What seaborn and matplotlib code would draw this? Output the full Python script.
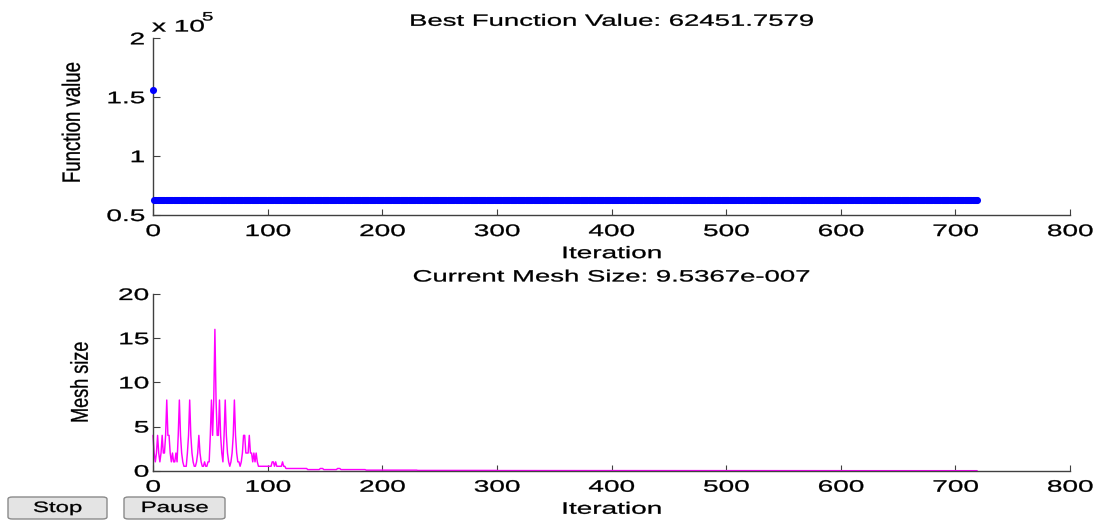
import numpy as np
import pandas as pd
import matplotlib
matplotlib.use("Agg")
import matplotlib.pyplot as plt
import seaborn as sns
from matplotlib.patheffects import AbstractPathEffect
from matplotlib.transforms import Affine2D
from matplotlib.patches import FancyBboxPatch

# ---------------- data ----------------
best_title = "Best Function Value: 62451.7579"
mesh_title = "Current Mesh Size: 9.5367e-007"
best_levels = [156100.0, 62451.7579]
best_runs = [1, 719]

mesh_head = [4, 2, 1, 2, 4, 2, 1, 2, 4, 2,
             2, 4, 8, 4, 4, 2, 1, 2, 1, 1,
             2, 1, 4, 8, 4, 2, 1, 0.5, 0.5, 0.5,
             2, 4, 8, 4, 2, 1, 0.5, 0.5, 1, 2,
             4, 2, 1, 0.5, 0.5, 1, 0.5, 0.5, 1, 1,
             4, 8, 4, 8, 16, 8, 4, 4, 8, 4,
             2, 1, 4, 8, 4, 2, 1, 0.5, 1, 2,
             4, 8, 4, 2, 1, 1, 0.5, 1, 2, 4,
             4, 2, 2, 2, 4, 2, 2, 1, 2, 1,
             2, 1, 0.5, 0.5, 0.5, 0.5, 0.5, 0.5, 0.5, 0.5,
             0.5, 0.5, 0.5, 0.5, 1, 1, 0.5, 1, 0.5, 0.5,
             0.5, 0.5, 0.5, 1, 0.5, 0.5]
mesh_tail_levels = [0.25, 0.125, 0.25, 0.125, 0.25, 0.125, 0.0625, 0.03125,
                    0.015625, 0.0078125, 0.00390625, 0.00048828, 9.5367e-07]
mesh_tail_runs = [19, 11, 3, 12, 3, 22, 45, 70, 100, 100, 100, 100, 19]

x_ticks = [0, 100, 200, 300, 400, 500, 600, 700, 800]
y1_ticks = [50000, 100000, 150000, 200000]
y1_labels = ["0.5", "1", "1.5", "2"]
y2_ticks = [0, 5, 10, 15, 20]
y2_labels = ["0", "5", "10", "15", "20"]
x_labels = [str(v) for v in x_ticks]

best_vals = np.repeat(best_levels, best_runs)
mesh_vals = np.concatenate([np.array(mesh_head, float),
                            np.repeat(mesh_tail_levels, mesh_tail_runs)])
df_best = pd.DataFrame({"Iteration": np.arange(len(best_vals)), "value": best_vals})
df_mesh = pd.DataFrame({"Iteration": np.arange(len(mesh_vals)), "mesh": mesh_vals})


# ------------- horizontal stretch of text (MATLAB screenshot look) -------------
class StretchX(AbstractPathEffect):
    def __init__(self, sx=1.65, anchor="center", stroke=0.22):
        super().__init__()
        self.sx = sx
        self.anchor = anchor
        self.stroke = stroke

    def draw_path(self, renderer, gc, tpath, affine, rgbFace=None):
        verts = affine.transform(tpath.vertices)
        if len(verts) == 0:
            return
        if self.anchor == "right":
            x0 = verts[:, 0].max()
        elif self.anchor == "left":
            x0 = verts[:, 0].min()
        else:
            x0 = 0.5 * (verts[:, 0].min() + verts[:, 0].max())
        aff = affine + Affine2D().translate(-x0, 0).scale(self.sx, 1).translate(x0, 0)
        gc0 = renderer.new_gc()
        gc0.copy_properties(gc)
        if self.stroke and rgbFace is not None:
            gc0.set_linewidth(self.stroke)
            gc0.set_foreground(rgbFace)
            gc0.set_joinstyle("round")
        renderer.draw_path(gc0, tpath, aff, rgbFace)
        gc0.restore()


sns.set_theme(style="white")
plt.rcParams["font.family"] = ["Liberation Sans", "DejaVu Sans"]

W, H = 1098, 521
fig = plt.figure(figsize=(W / 100, H / 100), dpi=100)
fig.patch.set_facecolor("white")

ax_w = 917 / W
ax_h = 176.7 / H
ax1 = fig.add_axes([153 / W, (H - 215) / H, ax_w, ax_h])
ax2 = fig.add_axes([153 / W, (H - 470.7) / H, ax_w, ax_h])

sns.scatterplot(data=df_best, x="Iteration", y="value", ax=ax1, color="#0000ff",
                s=26, linewidth=0, legend=False, clip_on=False, zorder=3)
sns.lineplot(data=df_mesh, x="Iteration", y="mesh", ax=ax2, color="#ff00ff",
             linewidth=1.05, legend=False, clip_on=False)

SX = 1.68
spine_col = "#404040"
FS = 12.0

for ax, yt, yl, ypad in [(ax1, y1_ticks, y1_labels, 6.0), (ax2, y2_ticks, y2_labels, 3.0)]:
    ax.set_facecolor("white")
    ax.set_xlim(0, 800)
    ax.set_ylim(yt[0], yt[-1])
    ax.set_xticks(x_ticks)
    ax.set_xticklabels(x_labels)
    ax.set_yticks(yt)
    ax.set_yticklabels(yl)
    for s in ["top", "right"]:
        ax.spines[s].set_visible(False)
    for s in ["left", "bottom"]:
        ax.spines[s].set_visible(True)
        ax.spines[s].set_color(spine_col)
        ax.spines[s].set_linewidth(1.0)
    ax.tick_params(axis="x", direction="in", length=4, width=0.8, color=spine_col,
                   pad=6.5, labelsize=FS, labelcolor="black", bottom=True)
    ax.tick_params(axis="y", direction="in", length=5, width=0.8, color=spine_col,
                   pad=ypad, labelsize=FS, labelcolor="black", left=True)
    ax.grid(False)
    for t in ax.get_xticklabels():
        t.set_path_effects([StretchX(SX, "center")])
    for t in ax.get_yticklabels():
        t.set_path_effects([StretchX(SX, "right")])

    ax.set_xlabel("Iteration", fontsize=FS, color="black")
    ax.xaxis.set_label_coords(0.5, -0.176)
    ax.xaxis.label.set_path_effects([StretchX(SX, "center")])

ax1.set_ylabel("Function value", fontsize=13.4, color="black")
ax1.yaxis.set_label_coords((73 - 153) / 917, 0.523)
ax1.yaxis.label.set_va("center")
ax1.yaxis.label.set_path_effects([StretchX(1.35, "center")])

ax2.set_ylabel("Mesh size", fontsize=13.0, color="black")
ax2.yaxis.set_label_coords((81 - 153) / 917, 0.5)
ax2.yaxis.label.set_va("center")
ax2.yaxis.label.set_path_effects([StretchX(1.35, "center")])

for ax, title in [(ax1, best_title), (ax2, mesh_title)]:
    t = ax.set_title(title, fontsize=11.8, color="black", pad=9)
    t.set_path_effects([StretchX(SX, "center")])

# exponent label of top axis
t = fig.text(152 / W, 1 - 31.5 / H, "x 10", fontsize=FS, color="black",
             ha="left", va="baseline")
t.set_path_effects([StretchX(SX, "left")])
t = fig.text(202 / W, 1 - 20.5 / H, "5", fontsize=8.8, color="black",
             ha="left", va="baseline")
t.set_path_effects([StretchX(SX, "left")])

# Stop / Pause buttons
for label, x0, x1 in [("Stop", 8, 107), ("Pause", 124, 225)]:
    y0, y1 = 497, 519
    patch = FancyBboxPatch((x0 / W, 1 - y1 / H), (x1 - x0) / W, (y1 - y0) / H,
                           boxstyle="round,pad=0,rounding_size=0.004",
                           transform=fig.transFigure, facecolor="#e4e4e4",
                           edgecolor="#8a8a8a", linewidth=1.0)
    fig.add_artist(patch)
    bt = fig.text((x0 + x1) / 2 / W, 1 - (y0 + y1) / 2 / H, label, fontsize=10.8,
                  color="black", ha="center", va="center")
    bt.set_path_effects([StretchX(1.6, "center")])

fig.savefig("out.png", dpi=100, facecolor="white")
